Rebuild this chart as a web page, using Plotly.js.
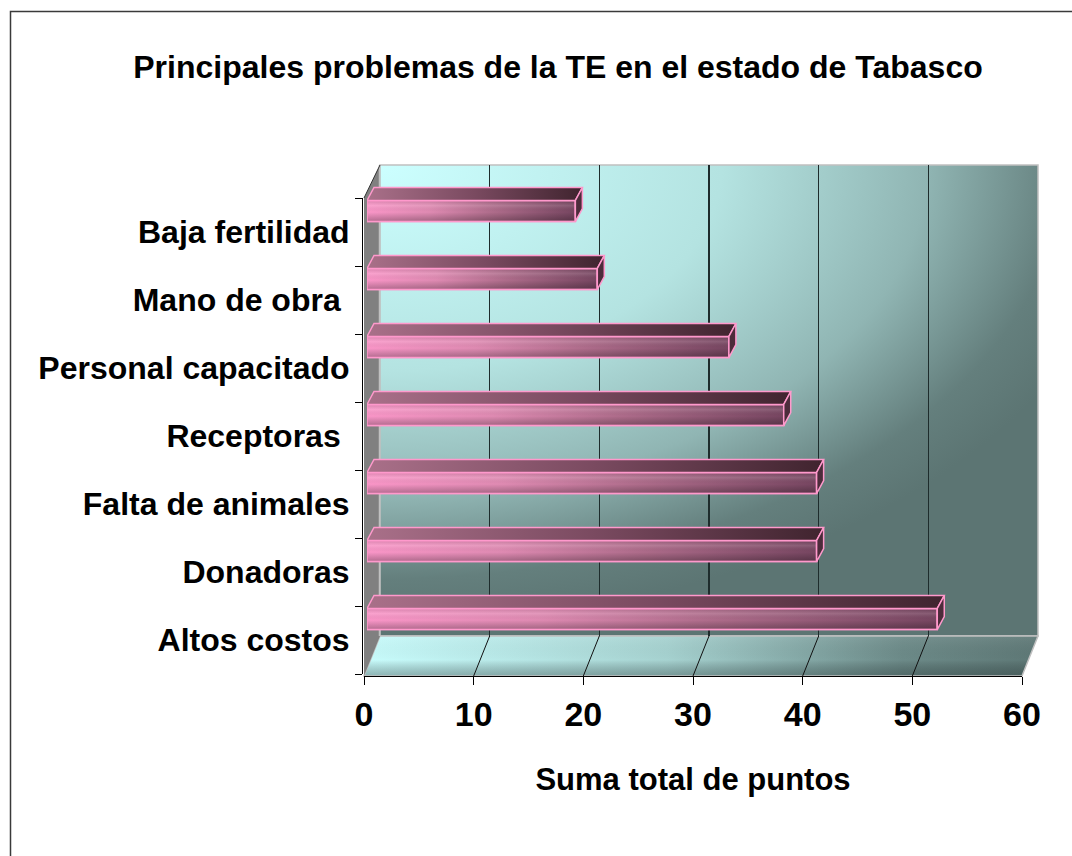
<!DOCTYPE html>
<html>
<head>
<meta charset="utf-8">
<script src="https://cdn.plot.ly/plotly-3.0.1.min.js"></script>
<style>html,body{margin:0;padding:0;background:#fff;}#chart{width:1072px;height:856px;}</style>
</head>
<body>
<div id="chart"></div>
<script>
// ---- data (bottom to top, as in the chart) ----
const categories = ["Altos costos", "Donadoras", "Falta de animales", "Receptoras ", "Personal capacitado", "Mano de obra ", "Baja fertilidad"];
const values = [52, 41, 41, 38, 33, 21, 19];
const xTickVals = [0, 10, 20, 30, 40, 50, 60];
const chartTitle = "Principales problemas de la TE en el estado de Tabasco";
const xTitle = "Suma total de puntos";

// ---- geometry (pixels) ----
const W = 1072, H = 856;
const FX0 = 364, FX1 = 1022, FLOOR_FRONT = 676;   // front (axis) edge
const BX0 = 380, BX1 = 1038, FLOOR_BACK = 636, WALL_TOP = 165, SIDE_TOP = 198;
const BAR_X0 = 367, BAR_SHIFT = 21;               // bars sit mid-depth
const px = v => v / W, py = v => 1 - v / H;
const xMax = 60;
const idx = categories.map((c, i) => i);
const barH = 0.31, dxU = 7 / ((FX1 - FX0) / xMax), dyU = 13 / ((FLOOR_FRONT - SIDE_TOP) / categories.length);

// ---- walls / floor drawn as a background picture ----
function wallsSVG() {
  const fx = v => FX0 + (FX1 - FX0) * v / xMax;
  const bx = v => BX0 + (BX1 - BX0) * v / xMax;
  let s = `<svg xmlns="http://www.w3.org/2000/svg" width="${W}" height="${H}" viewBox="0 0 ${W} ${H}">`;
  s += `<defs>
    <radialGradient id="bw" gradientUnits="userSpaceOnUse" cx="0" cy="0" r="1" gradientTransform="translate(${BX0},${WALL_TOP}) scale(760,460)">
      <stop offset="0" stop-color="#ccffff"/>
      <stop offset="0.45" stop-color="#b4e3e1"/>
      <stop offset="0.72" stop-color="#90b5b3"/>
      <stop offset="0.9" stop-color="#647f7d"/>
      <stop offset="1" stop-color="#5c7573"/>
    </radialGradient>
    <linearGradient id="fl" x1="0" y1="0" x2="1" y2="0">
      <stop offset="0" stop-color="#c8fcfc"/>
      <stop offset="0.45" stop-color="#a6d2d0"/>
      <stop offset="0.8" stop-color="#6c8a88"/>
      <stop offset="1" stop-color="#5e7876"/>
    </linearGradient>
    <linearGradient id="flv" x1="0" y1="0" x2="0" y2="1">
      <stop offset="0" stop-color="#ffffff" stop-opacity="0.08"/>
      <stop offset="0.6" stop-color="#000000" stop-opacity="0"/>
      <stop offset="1" stop-color="#203030" stop-opacity="0.35"/>
    </linearGradient>
  </defs>`;
  // outer frame
  s += `<path d="M10.5 ${H} L10.5 11.5 L${W} 11.5" fill="none" stroke="#3a3a3a" stroke-width="1.5"/>`;
  // back wall
  s += `<rect x="${BX0}" y="${WALL_TOP}" width="${BX1 - BX0}" height="${FLOOR_BACK - WALL_TOP}" fill="url(#bw)" stroke="#c0c0c0" stroke-width="1.5"/>`;
  // floor
  const fl = `M${FX0} ${FLOOR_FRONT} L${FX1} ${FLOOR_FRONT} L${BX1} ${FLOOR_BACK} L${BX0} ${FLOOR_BACK} Z`;
  s += `<path d="${fl}" fill="url(#fl)"/>`;
  s += `<path d="${fl}" fill="url(#flv)" stroke="#c0c0c0" stroke-width="1.5"/>`;
  xTickVals.slice(1, -1).forEach(v => {
    s += `<line x1="${fx(v)}" y1="${FLOOR_FRONT}" x2="${bx(v)}" y2="${FLOOR_BACK}" stroke="#111" stroke-width="1"/>`;
  });
  // left side wall
  s += `<path d="M${FX0} ${SIDE_TOP} L${BX0} ${WALL_TOP} L${BX0} ${FLOOR_BACK} L${FX0} ${FLOOR_FRONT} Z" fill="#808080"/>`;
  s += `<line x1="${BX0 - 0.5}" y1="${WALL_TOP}" x2="${BX0 - 0.5}" y2="${FLOOR_BACK}" stroke="#c0c0c0" stroke-width="1.5"/>`;
  s += `<line x1="${FX0}" y1="${SIDE_TOP}" x2="${BX0}" y2="${WALL_TOP}" stroke="#333" stroke-width="1"/>`;
  s += `</svg>`;
  return 'data:image/svg+xml;charset=utf-8,' + encodeURIComponent(s);
}

const font = 'Liberation Sans, Arial, Helvetica, sans-serif';

// ---- traces ----
const traces = [];
traces.push({type: 'scatter', x: [], y: [], xaxis: 'x', yaxis: 'y', showlegend: false});
traces.push({type: 'scatter', x: [], y: [], xaxis: 'x2', yaxis: 'y2', showlegend: false});
traces.push({
  type: 'bar', orientation: 'h', x: values, y: idx, width: barH,
  xaxis: 'x3', yaxis: 'y3',
  marker: {color: '#c27a9c', line: {color: '#ff99cc', width: 1.5}},
  hoverinfo: 'x', showlegend: false
});
values.forEach((v, i) => {
  const yt = i + barH / 2, yb = i - barH / 2;
  // top face
  traces.push({
    type: 'scatter', mode: 'lines', xaxis: 'x3', yaxis: 'y3', showlegend: false, hoverinfo: 'skip',
    x: [0, v, v + dxU, dxU, 0], y: [yt, yt, yt + dyU, yt + dyU, yt],
    fill: 'toself',
    fillgradient: {type: 'horizontal', colorscale: [[0, '#a97089'], [0.5, '#7a4a60'], [1, '#40242f']]},
    line: {color: '#ff99cc', width: 1.5}
  });
  // end face
  traces.push({
    type: 'scatter', mode: 'lines', xaxis: 'x3', yaxis: 'y3', showlegend: false, hoverinfo: 'skip',
    x: [v, v + dxU, v + dxU, v, v], y: [yb, yb + dyU, yt + dyU, yt, yb],
    fill: 'toself', fillcolor: '#4c2c3b',
    line: {color: '#ff99cc', width: 1.5}
  });
});

const boundaries = idx.map(i => i - 0.5).concat([idx.length - 0.5]);

const layout = {
  width: W, height: H,
  margin: {l: 0, r: 0, t: 0, b: 0},
  paper_bgcolor: '#ffffff', plot_bgcolor: 'rgba(0,0,0,0)',
  showlegend: false,
  font: {family: font, color: '#000'},
  title: {
    text: chartTitle, x: px(558), xref: 'paper', xanchor: 'center',
    y: py(67), yref: 'paper', yanchor: 'middle',
    font: {family: font, size: 32, weight: 700, color: '#000'}
  },
  images: [{
    source: wallsSVG(), xref: 'paper', yref: 'paper', x: 0, y: 1, sizex: 1, sizey: 1,
    xanchor: 'left', yanchor: 'top', sizing: 'stretch', layer: 'below'
  }],
  xaxis: {
    domain: [px(FX0), px(FX1)], range: [0, xMax], tickvals: xTickVals,
    ticks: 'outside', ticklen: 8, tickwidth: 1, tickcolor: '#000',
    showline: true, linecolor: '#000', linewidth: 1, showgrid: false, zeroline: false,
    anchor: 'free', position: py(FLOOR_FRONT),
    tickfont: {family: font, size: 34, weight: 700, color: '#000'},
    title: {text: xTitle, font: {family: font, size: 31, weight: 700, color: '#000'}, standoff: 36},
    fixedrange: true
  },
  yaxis: {
    domain: [py(674), py(SIDE_TOP)], range: [-0.5, categories.length - 0.5],
    tickvals: idx, ticktext: categories.map(c => c.replace(/ $/, '\u00a0')),
    ticks: 'outside', ticklen: 6, tickcolor: 'rgba(0,0,0,0)',
    minor: {tickvals: boundaries, ticks: 'outside', ticklen: 7, tickwidth: 1, tickcolor: '#000', showgrid: false},
    showline: true, linecolor: '#000', linewidth: 1, showgrid: false, zeroline: false,
    anchor: 'free', position: px(362),
    tickfont: {family: font, size: 32, weight: 700, color: '#000'},
    fixedrange: true
  },
  xaxis2: {
    domain: [px(BX0), px(BX1)], range: [0, xMax], tickvals: xTickVals.slice(1, -1),
    showgrid: true, gridcolor: '#1e2c2c', gridwidth: 1.2,
    showticklabels: false, ticks: '', showline: false, zeroline: false, anchor: 'y2', fixedrange: true
  },
  yaxis2: {
    domain: [py(FLOOR_BACK), py(WALL_TOP)], range: [0, 1], visible: false, anchor: 'x2', fixedrange: true
  },
  xaxis3: {
    domain: [px(BAR_X0), px(BAR_X0 + FX1 - FX0)], range: [0, xMax], visible: false, anchor: 'y3', fixedrange: true
  },
  yaxis3: {
    domain: [py(674 - BAR_SHIFT), py(SIDE_TOP - BAR_SHIFT)], range: [-0.5, categories.length - 0.5],
    visible: false, anchor: 'x3', fixedrange: true
  }
};

const gd = document.getElementById('chart');
Plotly.newPlot(gd, traces, layout, {displayModeBar: false, staticPlot: true}).then(() => {
  const ns = 'http://www.w3.org/2000/svg';
  const svg = gd.querySelector('svg.main-svg');
  let defs = svg.querySelector('defs');
  if (!defs) { defs = document.createElementNS(ns, 'defs'); svg.insertBefore(defs, svg.firstChild); }
  function addGrad(id, x2, y2, stops) {
    const g = document.createElementNS(ns, 'linearGradient');
    g.setAttribute('id', id);
    g.setAttribute('x1', '0'); g.setAttribute('y1', '0');
    g.setAttribute('x2', x2); g.setAttribute('y2', y2);
    stops.forEach(([o, c, a]) => {
      const s = document.createElementNS(ns, 'stop');
      s.setAttribute('offset', o); s.setAttribute('stop-color', c);
      s.setAttribute('stop-opacity', a === undefined ? 1 : a);
      g.appendChild(s);
    });
    defs.appendChild(g);
  }
  addGrad('frontGrad', '1', '0', [[0, '#fa96c8'], [0.3, '#e08bb3'], [0.6, '#b06d8c'], [1, '#774661']]);
  addGrad('frontShade', '0', '1', [[0, '#000000', 0.12], [0.25, '#ffffff', 0.12], [0.55, '#000000', 0], [1, '#000000', 0.28]]);
  gd.querySelectorAll('.barlayer .point path').forEach(p => {
    p.style.fill = 'url(#frontGrad)';
    const c = p.cloneNode(true);
    c.style.fill = 'url(#frontShade)';
    c.style.stroke = 'none';
    p.parentNode.appendChild(c);
    const o = p.cloneNode(true);
    o.style.fill = 'none';
    p.parentNode.appendChild(o);
  });
});
</script>
</body>
</html>
